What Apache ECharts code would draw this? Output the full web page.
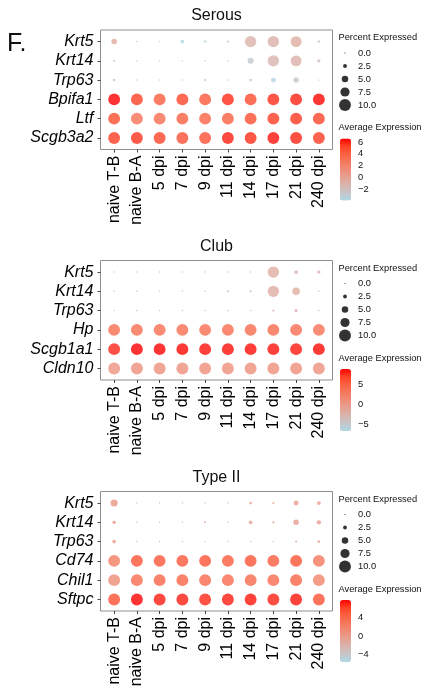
<!DOCTYPE html>
<html>
<head>
<meta charset="utf-8">
<script src="https://cdn.jsdelivr.net/npm/echarts@6/dist/echarts.min.js"></script>
<style>
  html, body { margin: 0; padding: 0; background: #fff; }
  #main { width: 424px; height: 692px; }
</style>
</head>
<body>
<div id="main"></div>
<script>
// ---- data ----
const timepoints = ['naive T-B', 'naive B-A', '5 dpi', '7 dpi', '9 dpi', '11 dpi', '14 dpi', '17 dpi', '21 dpi', '240 dpi'];

// Serous
const serousGenes = ['Krt5', 'Krt14', 'Trp63', 'Bpifa1', 'Ltf', 'Scgb3a2'];
const serousPct = [
  [4, 0.3, 0.3, 2.5, 1.2, 1, 9.5, 9.5, 9, 1.2],
  [1, 0.3, 0.3, 0.3, 0.3, 0.3, 4.5, 9.5, 9, 1.8],
  [1.5, 0.3, 0.3, 0.3, 1.2, 0.3, 1.5, 3.5, 4, 0.2],
  [10, 10, 10, 10, 10, 10, 10, 10, 10, 10],
  [10, 10, 10, 10, 10, 10, 10, 10, 10, 10],
  [10, 10, 10, 10, 10, 10, 10, 10, 10, 10]
];
const serousAvg = [
  [-0.4, -2.2, -2.2, -3.9, -3.3, -3.0, -1.1, -1.0, -0.8, -3.0],
  [-3.0, -2.4, -2.4, -2.4, -2.4, -2.4, -2.9, -1.3, -1.0, -1.8],
  [-3.0, -2.2, -2.2, -2.2, -3.5, -2.2, -3.3, -3.7, -2.5, -2.0],
  [6.6, 5.3, 4.2, 5.2, 4.3, 5.8, 4.9, 5.7, 5.9, 6.5],
  [4.8, 3.0, 3.4, 4.0, 3.9, 4.0, 4.8, 5.4, 5.5, 5.2],
  [5.4, 5.6, 5.2, 4.7, 4.7, 6.0, 5.7, 6.2, 5.9, 5.4]
];
const serousTicks = [6, 4, 2, 0, -2];

// Club
const clubGenes = ['Krt5', 'Krt14', 'Trp63', 'Hp', 'Scgb1a1', 'Cldn10'];
const clubPct = [
  [0.3, 0.3, 0.3, 0.3, 0.3, 0.3, 0.3, 9.5, 2.5, 2],
  [0.3, 0.3, 0.3, 0.3, 0.3, 1, 1, 9.5, 6, 0.3],
  [0.3, 0.3, 0.3, 0.3, 0.3, 0.3, 0.3, 1, 2, 0.3],
  [10, 10, 10, 10, 10, 10, 10, 10, 10, 10],
  [10, 10, 10, 10, 10, 10, 10, 10, 10, 10],
  [10, 10, 10, 10, 10, 10, 10, 10, 10, 10]
];
const clubAvg = [
  [-3, -3, -3, -3, -3, -3, -3, -1.9, -2.7, -2.5],
  [-3, -3, -3, -3, -3, -3, -3, -1.9, -1.9, -3],
  [-6.5, -3, -3, -3, -3, -3, -3, -3, -2.6, -3],
  [3.8, 3.9, 3.9, 3.9, 3.9, 4.0, 4.1, 4.1, 3.9, 3.7],
  [7.6, 8.7, 8.6, 8.5, 8.2, 8.3, 8.3, 8.2, 8.0, 8.4],
  [0.6, 0.8, 0.8, 0.8, 0.8, 0.9, 0.8, 0.9, 0.9, 0.7]
];
const clubTicks = [5, 0, -5];

// Type II
const type2Genes = ['Krt5', 'Krt14', 'Trp63', 'Cd74', 'Chil1', 'Sftpc'];
const type2Pct = [
  [5.5, 0.3, 0.3, 0.3, 0.3, 0.3, 1.5, 1, 3.5, 2.5],
  [2, 0.3, 0.3, 0.3, 0.8, 0.3, 2.5, 1, 4, 3],
  [2.2, 0.3, 0.3, 0.3, 0.3, 0.3, 0.3, 0.3, 0.8, 1.5],
  [10, 10, 10, 10, 10, 10, 10, 10, 10, 10],
  [10, 10, 10, 10, 10, 10, 10, 10, 10, 10],
  [10, 10, 10, 10, 10, 10, 10, 10, 10, 10]
];
const type2Avg = [
  [0.4, -2, -2, -2, -2, -2, -0.5, -0.5, -0.2, -0.2],
  [0.5, -2, -2, -2, -1, -2, -0.8, -0.8, -0.3, -0.3],
  [0.2, -2, -2, -2, -5.6, -2, -2, -2, -1, -0.8],
  [2.4, 5.2, 5.0, 5.0, 5.1, 4.8, 5.1, 4.8, 5.2, 2.8],
  [1.1, 3.6, 4.2, 4.2, 3.9, 3.6, 3.9, 3.6, 4.2, 1.9],
  [5.4, 7.8, 7.1, 7.1, 6.8, 7.1, 7.3, 7.0, 7.3, 5.3]
];
const type2Ticks = [4, 0, -4];

// size legend keys
const pctLegendValues = [0, 2.5, 5, 7.5, 10];
const pctLegendLabels = ['0.0', '2.5', '5.0', '7.5', '10.0'];

// ---- layout & style ----
const FONT = '"Liberation Sans", Arial, Helvetica, sans-serif';
const gradient = ['#ADD8E6', '#C6C6C9', '#D8B4AD', '#E5A192', '#EE8D77', '#F5785C', '#FA6042', '#FD4226', '#FF0000'];
const dotSize = pct => 1.2 + pct * 1.07;

const panels = [
  { title: 'Serous', genes: serousGenes, pct: serousPct, avg: serousAvg, ticks: serousTicks },
  { title: 'Club', genes: clubGenes, pct: clubPct, avg: clubAvg, ticks: clubTicks },
  { title: 'Type II', genes: type2Genes, pct: type2Pct, avg: type2Avg, ticks: type2Ticks }
];
const panelTop = [30, 260.5, 491.5];
const PLOT_LEFT = 100.5, PLOT_W = 232, PLOT_H = 119.5;

const grid = [], xAxis = [], yAxis = [], series = [], visualMap = [], graphic = [];
const legendSeries = [];

const minusFmt = v => (v < 0 ? '\u2212' + (-v) : String(v));
const idx = n => Array.from({ length: n }, (_, i) => i);

graphic.push({
  type: 'text', x: 7, y: 44,
  style: { text: 'F.', font: '25px ' + FONT, fill: '#111', textAlign: 'left', textVerticalAlign: 'middle', align: 'left', verticalAlign: 'middle' }
});

panels.forEach((p, k) => {
  const top = panelTop[k];
  const o = top - panelTop[0];
  const g0 = grid.length;

  // dot plot
  grid.push({ left: PLOT_LEFT, top: top, width: PLOT_W, height: PLOT_H, show: true,
    borderColor: '#8f8f8f', borderWidth: 1, backgroundColor: 'transparent' });
  // percent-expressed key
  grid.push({ left: 339.5, top: 46.5 + o, width: 11, height: 65 });
  // colour bar axis
  grid.push({ left: 340, top: 138.5 + o, width: 11, height: 62 });

  const nGenes = p.genes.length;
  xAxis.push({
    type: 'value', gridIndex: g0, min: -0.6, max: timepoints.length - 0.4, position: 'bottom',
    axisLine: { show: false, onZero: false }, splitLine: { show: false },
    axisTick: { show: true, customValues: idx(timepoints.length), length: 3, lineStyle: { color: '#444', width: 1 } },
    axisLabel: { customValues: idx(timepoints.length), formatter: v => timepoints[Math.round(v)],
      rotate: 90, margin: 6, fontSize: 16, color: '#000', fontFamily: FONT }
  });
  yAxis.push({
    type: 'value', gridIndex: g0, inverse: true, min: -0.6, max: nGenes - 0.4, position: 'left',
    axisLine: { show: false, onZero: false }, splitLine: { show: false },
    axisTick: { show: true, customValues: idx(nGenes), length: 3, lineStyle: { color: '#444', width: 1 } },
    axisLabel: { customValues: idx(nGenes), formatter: v => p.genes[Math.round(v)],
      margin: 7, fontSize: 16, fontStyle: 'italic', color: '#000', fontFamily: FONT }
  });

  xAxis.push({ type: 'value', gridIndex: g0 + 1, min: -1, max: 1, show: false });
  yAxis.push({
    type: 'category', gridIndex: g0 + 1, data: pctLegendLabels, inverse: true, position: 'right',
    axisLine: { show: false, onZero: false }, axisTick: { show: false }, splitLine: { show: false },
    axisLabel: { margin: 7.5, fontSize: 9.3, color: '#111', fontFamily: FONT }
  });

  const allAvg = p.avg.flat();
  const vMin = Math.min(...allAvg), vMax = Math.max(...allAvg);

  xAxis.push({ type: 'value', gridIndex: g0 + 2, min: 0, max: 1, show: false });
  yAxis.push({
    type: 'value', gridIndex: g0 + 2, min: vMin, max: vMax, position: 'right',
    axisLine: { show: false, onZero: false }, axisTick: { show: false }, splitLine: { show: false },
    axisLabel: { customValues: p.ticks, formatter: minusFmt, margin: 7, fontSize: 9.3, color: '#111', fontFamily: FONT }
  });

  const data = [];
  p.genes.forEach((gname, i) => {
    timepoints.forEach((t, j) => {
      data.push([j, i, p.pct[i][j], p.avg[i][j]]);
    });
  });
  series.push({
    type: 'scatter', name: p.title, xAxisIndex: g0, yAxisIndex: g0, data: data,
    symbol: 'circle', symbolSize: v => dotSize(v[2]), silent: true, animation: false
  });
  legendSeries.push({
    type: 'scatter', xAxisIndex: g0 + 1, yAxisIndex: g0 + 1,
    data: pctLegendValues.map((v, i) => [0, i, v]),
    symbol: 'circle', symbolSize: v => dotSize(v[2]), itemStyle: { color: '#000' }, silent: true, animation: false
  });
  legendSeries.push({ type: 'scatter', xAxisIndex: g0 + 2, yAxisIndex: g0 + 2, data: [], silent: true });

  visualMap.push({
    type: 'continuous', seriesIndex: k, dimension: 3, min: vMin, max: vMax,
    inRange: { color: gradient }, calculable: false, hoverLink: false, realtime: false,
    orient: 'vertical', left: 340, top: 138.5 + o, itemWidth: 11, itemHeight: 62,
    padding: 0, text: null, showLabel: false
  });

  graphic.push({
    type: 'text', x: PLOT_LEFT + PLOT_W / 2, y: top - 14,
    style: { text: p.title, font: '16px ' + FONT, fill: '#111', textAlign: 'center', textVerticalAlign: 'middle', align: 'center', verticalAlign: 'middle' }
  });
  graphic.push({
    type: 'text', x: 338.5, y: 37.5 + o,
    style: { text: 'Percent Expressed', font: '9.3px ' + FONT, fill: '#111', textAlign: 'left', textVerticalAlign: 'middle', align: 'left', verticalAlign: 'middle' }
  });
  graphic.push({
    type: 'text', x: 338.5, y: 127.5 + o,
    style: { text: 'Average Expression', font: '9.3px ' + FONT, fill: '#111', textAlign: 'left', textVerticalAlign: 'middle', align: 'left', verticalAlign: 'middle' }
  });
});

const chart = echarts.init(document.getElementById('main'), null, { renderer: 'canvas' });
chart.setOption({
  backgroundColor: '#fff',
  animation: false,
  grid: grid,
  xAxis: xAxis,
  yAxis: yAxis,
  visualMap: visualMap,
  series: series.concat(legendSeries),
  graphic: graphic
});
</script>
</body>
</html>
